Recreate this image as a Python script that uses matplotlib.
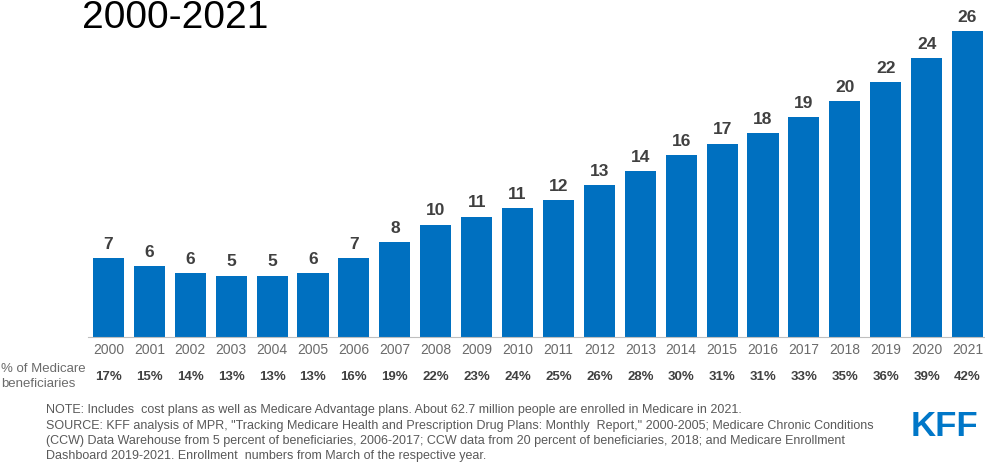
import matplotlib.pyplot as plt

years = [str(y) for y in range(2000, 2022)]
enrollment = [6.8, 6.1, 5.5, 5.3, 5.3, 5.5, 6.8, 8.2, 9.7, 10.4, 11.1, 11.8,
              13.1, 14.3, 15.7, 16.7, 17.6, 19.0, 20.4, 22.0, 24.1, 26.4]
value_labels = ["7", "6", "6", "5", "5", "6", "7", "8", "10", "11", "11", "12",
                "13", "14", "16", "17", "18", "19", "20", "22", "24", "26"]
share_labels = ["17%", "15%", "14%", "13%", "13%", "13%", "16%", "19%", "22%", "23%", "24%",
                "25%", "26%", "28%", "30%", "31%", "31%", "33%", "35%", "36%", "39%", "42%"]

note_lines = [
    "NOTE: Includes  cost plans as well as Medicare Advantage plans. About 62.7 million people are enrolled in Medicare in 2021.",
    "SOURCE: KFF analysis of MPR, \"Tracking Medicare Health and Prescription Drug Plans: Monthly  Report,\" 2000-2005; Medicare Chronic Conditions",
    "(CCW) Data Warehouse from 5 percent of beneficiaries, 2006-2017; CCW data from 20 percent of beneficiaries, 2018; and Medicare Enrollment",
    "Dashboard 2019-2021. Enrollment  numbers from March of the respective year.",
]

plt.rcParams['font.family'] = ['Liberation Sans', 'DejaVu Sans']

W, H = 985, 468
fig = plt.figure(figsize=(W / 100, H / 100), dpi=100)
ax = fig.add_axes([88 / W, 131 / H, 900 / W, 330 / H])

x = list(range(len(years)))
bars = ax.bar(x, enrollment, width=0.76, color='#0070C0')
ax.set_xlim(-0.5, len(years) - 0.5)
ax.set_ylim(0, 28.5)

for xi, v, lab in zip(x, enrollment, value_labels):
    ax.annotate(lab, (xi, v), xytext=(0, 4.5), textcoords='offset points',
                ha='center', va='bottom', fontsize=12.5, fontweight='bold', color='#404040')

for s in ['top', 'right', 'left']:
    ax.spines[s].set_visible(False)
ax.spines['bottom'].set_color('#bfbfbf')
ax.set_yticks([])
ax.set_xticks(x)
ax.set_xticklabels(years, fontsize=10, color='#6b6b6b')
ax.tick_params(axis='x', length=0, pad=4)

# share of beneficiaries row
for xi, lab in zip(x, share_labels):
    ax.annotate(lab, (xi, 0), xytext=(0, -40 * 0.72), textcoords='offset points',
                ha='center', va='center', fontsize=9.5, fontweight='bold', color='#404040')

fig.text(1 / W, 1 - 369 / H, "% of Medicare", fontsize=9.5, color='#6b6b6b', va='center', ha='left')
fig.text(1 / W, 1 - 384 / H, "beneficiaries", fontsize=9.5, color='#6b6b6b', va='center', ha='left')

fig.text(82 / W, 1 - 18 / H, "2000-2021", fontsize=28, color='black', va='center', ha='left')

ys = [410, 426, 441, 456]
for line, yy in zip(note_lines, ys):
    fig.text(46 / W, 1 - yy / H, line, fontsize=9, color='#595959', va='center', ha='left')

fig.text(944 / W, 1 - 427 / H, "KFF", fontsize=25, fontweight='bold', color='#0077C8',
         va='center', ha='center')

fig.savefig('out.png', dpi=100)
